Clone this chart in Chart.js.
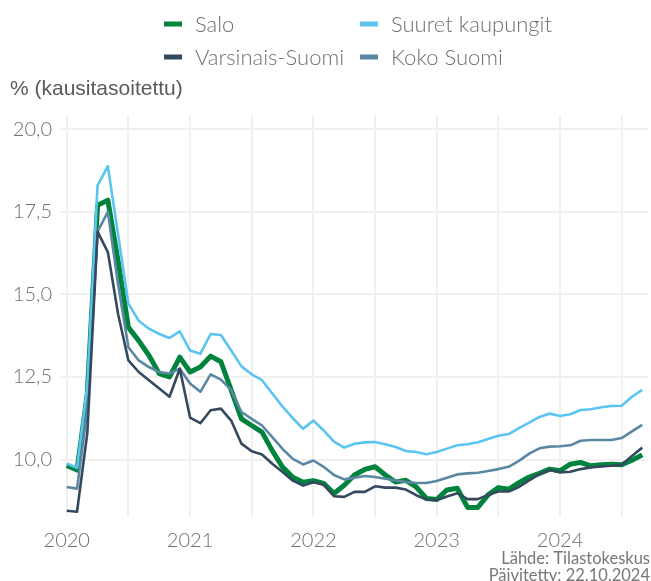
<!DOCTYPE html>
<html><head><meta charset="utf-8">
<script src="https://cdn.jsdelivr.net/npm/chart.js@4/dist/chart.umd.min.js"></script>
<style>html,body{margin:0;padding:0;background:#fff;}canvas{display:block}</style>
</head><body>
<canvas id="c" width="651" height="581"></canvas>
<script>
const months = ["2020-01","2020-02","2020-03","2020-04","2020-05","2020-06","2020-07","2020-08","2020-09","2020-10","2020-11","2020-12",
"2021-01","2021-02","2021-03","2021-04","2021-05","2021-06","2021-07","2021-08","2021-09","2021-10","2021-11","2021-12",
"2022-01","2022-02","2022-03","2022-04","2022-05","2022-06","2022-07","2022-08","2022-09","2022-10","2022-11","2022-12",
"2023-01","2023-02","2023-03","2023-04","2023-05","2023-06","2023-07","2023-08","2023-09","2023-10","2023-11","2023-12",
"2024-01","2024-02","2024-03","2024-04","2024-05","2024-06","2024-07","2024-08","2024-09"];

const yearLabels = ["2020","2021","2022","2023","2024"];
const yTicks = [10, 12.5, 15, 17.5, 20];

const salo = [9.82,9.68,12.0,17.7,17.85,16.0,14.0,13.6,13.15,12.6,12.5,13.1,
12.65,12.8,13.13,12.96,12.1,11.23,11.03,10.83,10.27,9.77,9.46,9.31,
9.36,9.28,8.97,9.22,9.53,9.7,9.78,9.53,9.32,9.37,9.17,8.82,
8.79,9.08,9.13,8.55,8.55,8.93,9.15,9.1,9.3,9.47,9.58,9.71,
9.66,9.86,9.91,9.81,9.84,9.86,9.84,9.98,10.14];

const suuret = [9.88,9.75,12.25,18.3,18.88,16.8,14.72,14.2,13.96,13.8,13.68,13.88,
13.3,13.2,13.8,13.77,13.3,12.82,12.58,12.4,12.0,11.6,11.25,10.93,
11.18,10.88,10.54,10.36,10.48,10.52,10.53,10.46,10.38,10.26,10.23,10.16,
10.23,10.33,10.43,10.46,10.52,10.62,10.72,10.77,10.95,11.12,11.29,11.39,
11.32,11.37,11.5,11.52,11.58,11.62,11.63,11.9,12.11];

const varsinais = [8.45,8.42,10.8,16.9,16.28,14.4,13.0,12.65,12.4,12.15,11.9,12.75,
11.27,11.1,11.49,11.54,11.18,10.48,10.25,10.15,9.87,9.62,9.36,9.21,
9.31,9.24,8.89,8.87,9.02,9.02,9.19,9.15,9.15,9.09,8.92,8.79,
8.77,8.88,8.98,8.8,8.8,8.93,9.03,9.03,9.17,9.37,9.56,9.68,
9.61,9.63,9.71,9.76,9.79,9.81,9.84,10.11,10.36];

const koko = [9.17,9.12,11.5,16.9,17.5,15.3,13.4,13.0,12.8,12.65,12.6,12.75,
12.3,12.05,12.58,12.42,12.1,11.44,11.23,11.03,10.68,10.32,10.02,9.85,
9.97,9.78,9.53,9.4,9.45,9.5,9.47,9.42,9.37,9.32,9.29,9.29,
9.35,9.45,9.55,9.58,9.6,9.65,9.71,9.78,9.96,10.18,10.34,10.39,
10.4,10.43,10.57,10.59,10.59,10.59,10.65,10.85,11.05];

const seriesNames = ["Salo","Suuret kaupungit","Varsinais-Suomi","Koko Suomi"];
const seriesColors = ["#00843D","#5BC5F2","#34495E","#5C87A3"];
const seriesWidths = [5, 2.6, 2.6, 2.6];
const seriesData = [salo, suuret, varsinais, koko];

const yTitle = "% (kausitasoitettu)";
const sourceLines = ["Lähde: Tilastokeskus","Päivitetty: 22.10.2024"];

const FONT = "Lato, 'Open Sans', sans-serif";

const datasets = seriesData.map((arr, k) => ({
  label: seriesNames[k],
  data: arr.map((v, i) => ({x: i, y: v})),
  borderColor: seriesColors[k],
  backgroundColor: seriesColors[k],
  borderWidth: seriesWidths[k],
  pointRadius: 0,
  tension: 0,
  borderJoinStyle: 'round',
  borderCapStyle: 'butt',
  fill: false
}));
// Salo drawn first (underneath), others on top
const drawOrder = [0, 3, 1, 2];
datasets.forEach((d, k) => { d.order = 10 - drawOrder.indexOf(k); });

const extras = {
  id: 'extras',
  afterDraw(chart) {
    const ctx = chart.ctx;
    ctx.save();
    // legend
    const legendPos = [[164, 24], [360, 24], [164, 57], [360, 57]];
    ctx.font = "300 22px " + FONT;
    ctx.textBaseline = 'middle';
    ctx.textAlign = 'left';
    seriesNames.forEach((n, k) => {
      const [x, y] = legendPos[k];
      ctx.fillStyle = seriesColors[k];
      ctx.fillRect(x, y - 2.5, 18, 5);
      ctx.fillStyle = '#707070';
      ctx.fillText(n, x + 31, y + 1);
    });
    // y title
    ctx.font = "21px 'Liberation Sans', Arial, sans-serif";
    ctx.fillStyle = '#5a5a5a';
    ctx.fillText(yTitle, 10, 89);
    // source
    ctx.font = "16.5px " + FONT;
    ctx.fillStyle = '#777777';
    ctx.textAlign = 'right';
    ctx.fillText(sourceLines[0], 650, 559);
    ctx.fillText(sourceLines[1], 650, 576);
    ctx.restore();
  }
};

new Chart(document.getElementById('c'), {
  type: 'line',
  data: { datasets },
  plugins: [extras],
  options: {
    responsive: false,
    devicePixelRatio: 1,
    animation: false,
    layout: { padding: { top: 115, right: 3, left: 0, bottom: 0 } },
    plugins: { legend: { display: false }, tooltip: { enabled: false } },
    scales: {
      x: {
        type: 'linear',
        min: -0.56,
        max: 56.56,
        afterBuildTicks(scale) {
          const t = [];
          for (let i = 0; i < months.length; i += 6) t.push({ value: i });
          scale.ticks = t;
        },
        afterFit(scale) { scale.height = 64; },
        grid: { color: '#f0f0f0', lineWidth: 2, drawTicks: false },
        border: { display: false },
        ticks: {
          autoSkip: false,
          maxRotation: 0,
          padding: 12,
          color: '#707070',
          font: { family: FONT, size: 20, weight: 300 },
          callback: (v) => (v % 12 === 0 ? yearLabels[v / 12] : '')
        }
      },
      y: {
        min: 8.26,
        max: 20.43,
        afterBuildTicks(scale) { scale.ticks = yTicks.map(v => ({ value: v })); },
        afterFit(scale) { scale.width = 61; },
        grid: { color: '#f0f0f0', lineWidth: 2, drawTicks: false },
        border: { display: false },
        ticks: {
          padding: 9,
          color: '#707070',
          font: { family: FONT, size: 20, weight: 300 },
          callback: (v) => v.toFixed(1).replace('.', ',')
        }
      }
    }
  }
});
</script>
</body></html>
